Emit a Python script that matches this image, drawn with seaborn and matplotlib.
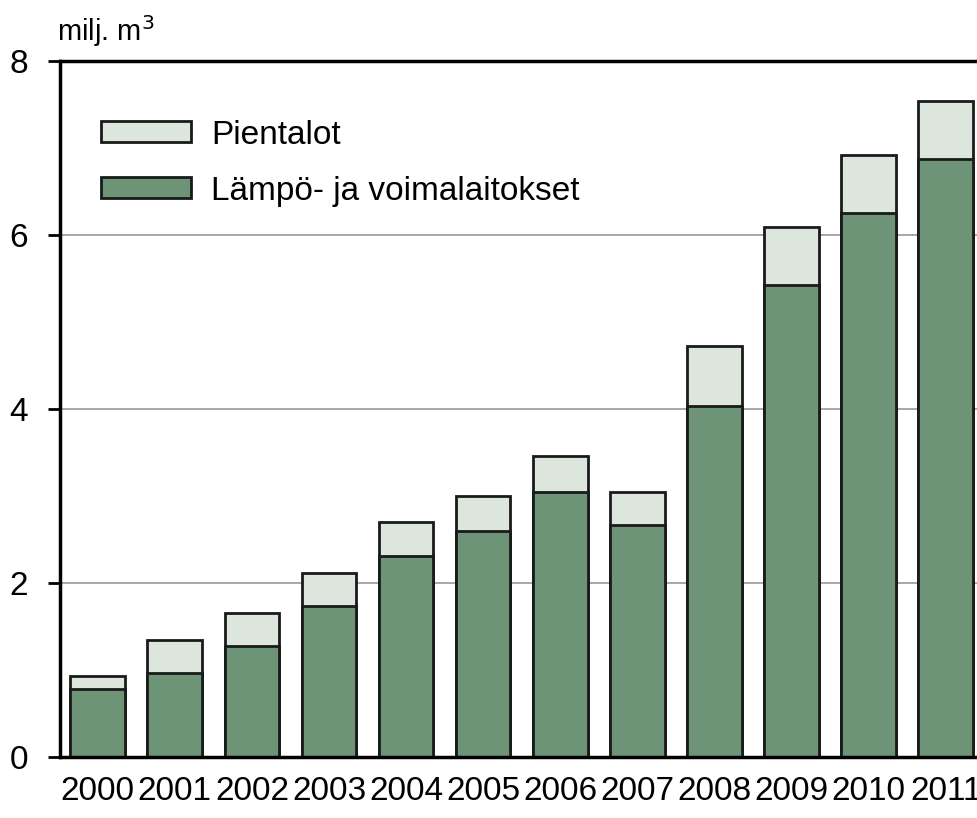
import matplotlib
matplotlib.use("Agg")
import matplotlib.pyplot as plt
from matplotlib.patches import Patch
import pandas as pd
import seaborn as sns

# values (million m3)
years = ["2000", "2001", "2002", "2003", "2004", "2005",
         "2006", "2007", "2008", "2009", "2010", "2011"]
voimalaitokset = [0.78, 0.96, 1.27, 1.73, 2.31, 2.60, 3.05, 2.67, 4.03, 5.42, 6.25, 6.87]
pientalot = [0.15, 0.39, 0.38, 0.38, 0.39, 0.40, 0.41, 0.38, 0.69, 0.67, 0.67, 0.67]

df = pd.DataFrame({"vuosi": years, "lampo": voimalaitokset, "pien": pientalot})
df["yht"] = df["lampo"] + df["pien"]

sns.set_style("white")
plt.rcParams["font.family"] = ["Liberation Sans", "DejaVu Sans"]
plt.rcParams["text.color"] = "black"

dark = "#6e9478"
light = "#dce6dc"
fs = 24

fig = plt.figure(figsize=(9.78, 8.18), dpi=100)
ax = fig.add_axes([0.0613, 0.0746, 0.9387, 0.8508])

# grey grid lines behind the bars
for v in [2, 4, 6]:
    ax.axhline(v, color="#a0a0a0", lw=1.3, zorder=0)

sns.barplot(data=df, x="vuosi", y="yht", color=light, width=0.71,
            edgecolor="#1a1a1a", linewidth=2, saturation=1, ax=ax, zorder=2)
sns.barplot(data=df, x="vuosi", y="lampo", color=dark, width=0.71,
            edgecolor="#1a1a1a", linewidth=2, saturation=1, ax=ax, zorder=3)

ax.set_xlim(-0.49, 11.42)
ax.set_ylim(0, 8)
ax.set_yticks([0, 2, 4, 6, 8])
ax.set_xlabel("")
ax.set_ylabel("")

for s in ["left", "top", "bottom"]:
    ax.spines[s].set_visible(True)
    ax.spines[s].set_color("black")
    ax.spines[s].set_linewidth(2.5)
    ax.spines[s].set_zorder(5)
ax.spines["right"].set_visible(False)

ax.tick_params(axis="y", which="both", left=True, length=9, width=2,
               labelsize=fs, pad=14, colors="black")
ax.tick_params(axis="x", bottom=False, labelsize=fs, pad=10, colors="black")

fig.text(0.058, 0.94, "milj. m$^3$", fontsize=21, ha="left", va="bottom", color="black")

handles = [Patch(facecolor=light, edgecolor="#1a1a1a", linewidth=2, label="Pientalot"),
           Patch(facecolor=dark, edgecolor="#1a1a1a", linewidth=2, label="Lämpö- ja voimalaitokset")]
ax.legend(handles=handles, loc="upper left", bbox_to_anchor=(0.03, 0.935),
          frameon=False, fontsize=fs, handlelength=2.7, handleheight=0.6,
          handletextpad=0.6, labelspacing=0.75, borderaxespad=0, labelcolor="black")

fig.savefig("out.png", dpi=100)
